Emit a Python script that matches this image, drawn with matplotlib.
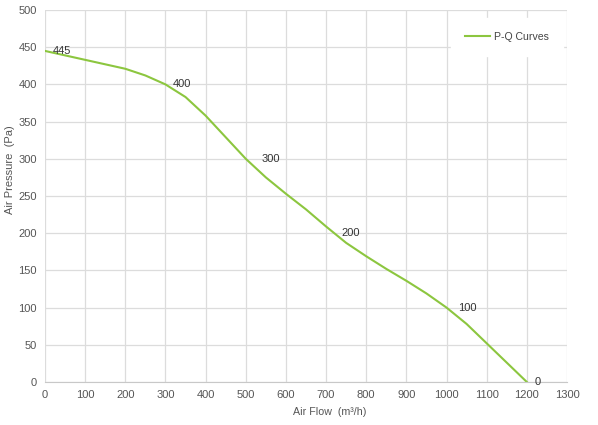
import matplotlib.pyplot as plt

# P-Q curve (every 50 m³/h)
air_flow = [0, 50, 100, 150, 200, 250, 300, 350, 400, 450, 500, 550, 600,
            650, 700, 750, 800, 850, 900, 950, 1000, 1050, 1100, 1150, 1200]
air_pressure = [445, 439, 433, 427, 421, 412, 400, 383, 358, 329, 300, 275, 253,
                232, 209, 187, 169, 152, 136, 119, 100, 78, 52, 26, 0]

# points that carry a value label
label_flow = [0, 300, 520, 720, 1010, 1200]
label_pressure = [445, 400, 300, 200, 100, 0]

x_ticks = list(range(0, 1301, 100))
y_ticks = list(range(0, 501, 50))

plt.rcParams['font.family'] = ['Liberation Sans', 'DejaVu Sans']

fig = plt.figure(figsize=(5.98, 4.25), dpi=100)
ax = fig.add_axes([45 / 598, 43 / 425, 522 / 598, 372 / 425])

ax.plot(air_flow, air_pressure, color='#8cc63f', linewidth=1.5,
        solid_joinstyle='round', label='P-Q Curves')

for fx, py in zip(label_flow, label_pressure):
    ax.annotate(str(py), (fx, py), xytext=(5.5, 0), textcoords='offset points',
                ha='left', va='center', fontsize=8, color='#333333')

ax.set_xlim(0, 1300)
ax.set_ylim(0, 500)
ax.set_xticks(x_ticks)
ax.set_yticks(y_ticks)
ax.tick_params(length=0, labelsize=8, labelcolor='#555555', pad=6)

ax.grid(True, color='#dcdcdc', linewidth=0.9)
ax.set_axisbelow(True)
for side in ['top', 'right', 'left']:
    ax.spines[side].set_visible(False)
ax.spines['bottom'].set_color('#c8c8c8')

# axis titles placed by hand to match the reference
fig.text(330 / 598, 1 - 412 / 425, 'Air Flow  (m³/h)',
         ha='center', va='center', fontsize=7.7, color='#555555')
fig.text(10 / 598, 1 - 170 / 425, 'Air Pressure  (Pa)', rotation=90,
         ha='center', va='center', fontsize=8, color='#555555')

leg = ax.legend(loc='center left', bbox_to_anchor=(0.784, 0.927), borderaxespad=0,
                fontsize=7.6, frameon=True, handlelength=2.4, handletextpad=0.4,
                borderpad=1.0)
leg.get_frame().set_edgecolor('white')
leg.get_frame().set_facecolor('white')
leg.get_frame().set_alpha(1)
leg.get_frame().set_boxstyle('square')
for t in leg.get_texts():
    t.set_color('#444444')

fig.savefig('out.png', dpi=100)
